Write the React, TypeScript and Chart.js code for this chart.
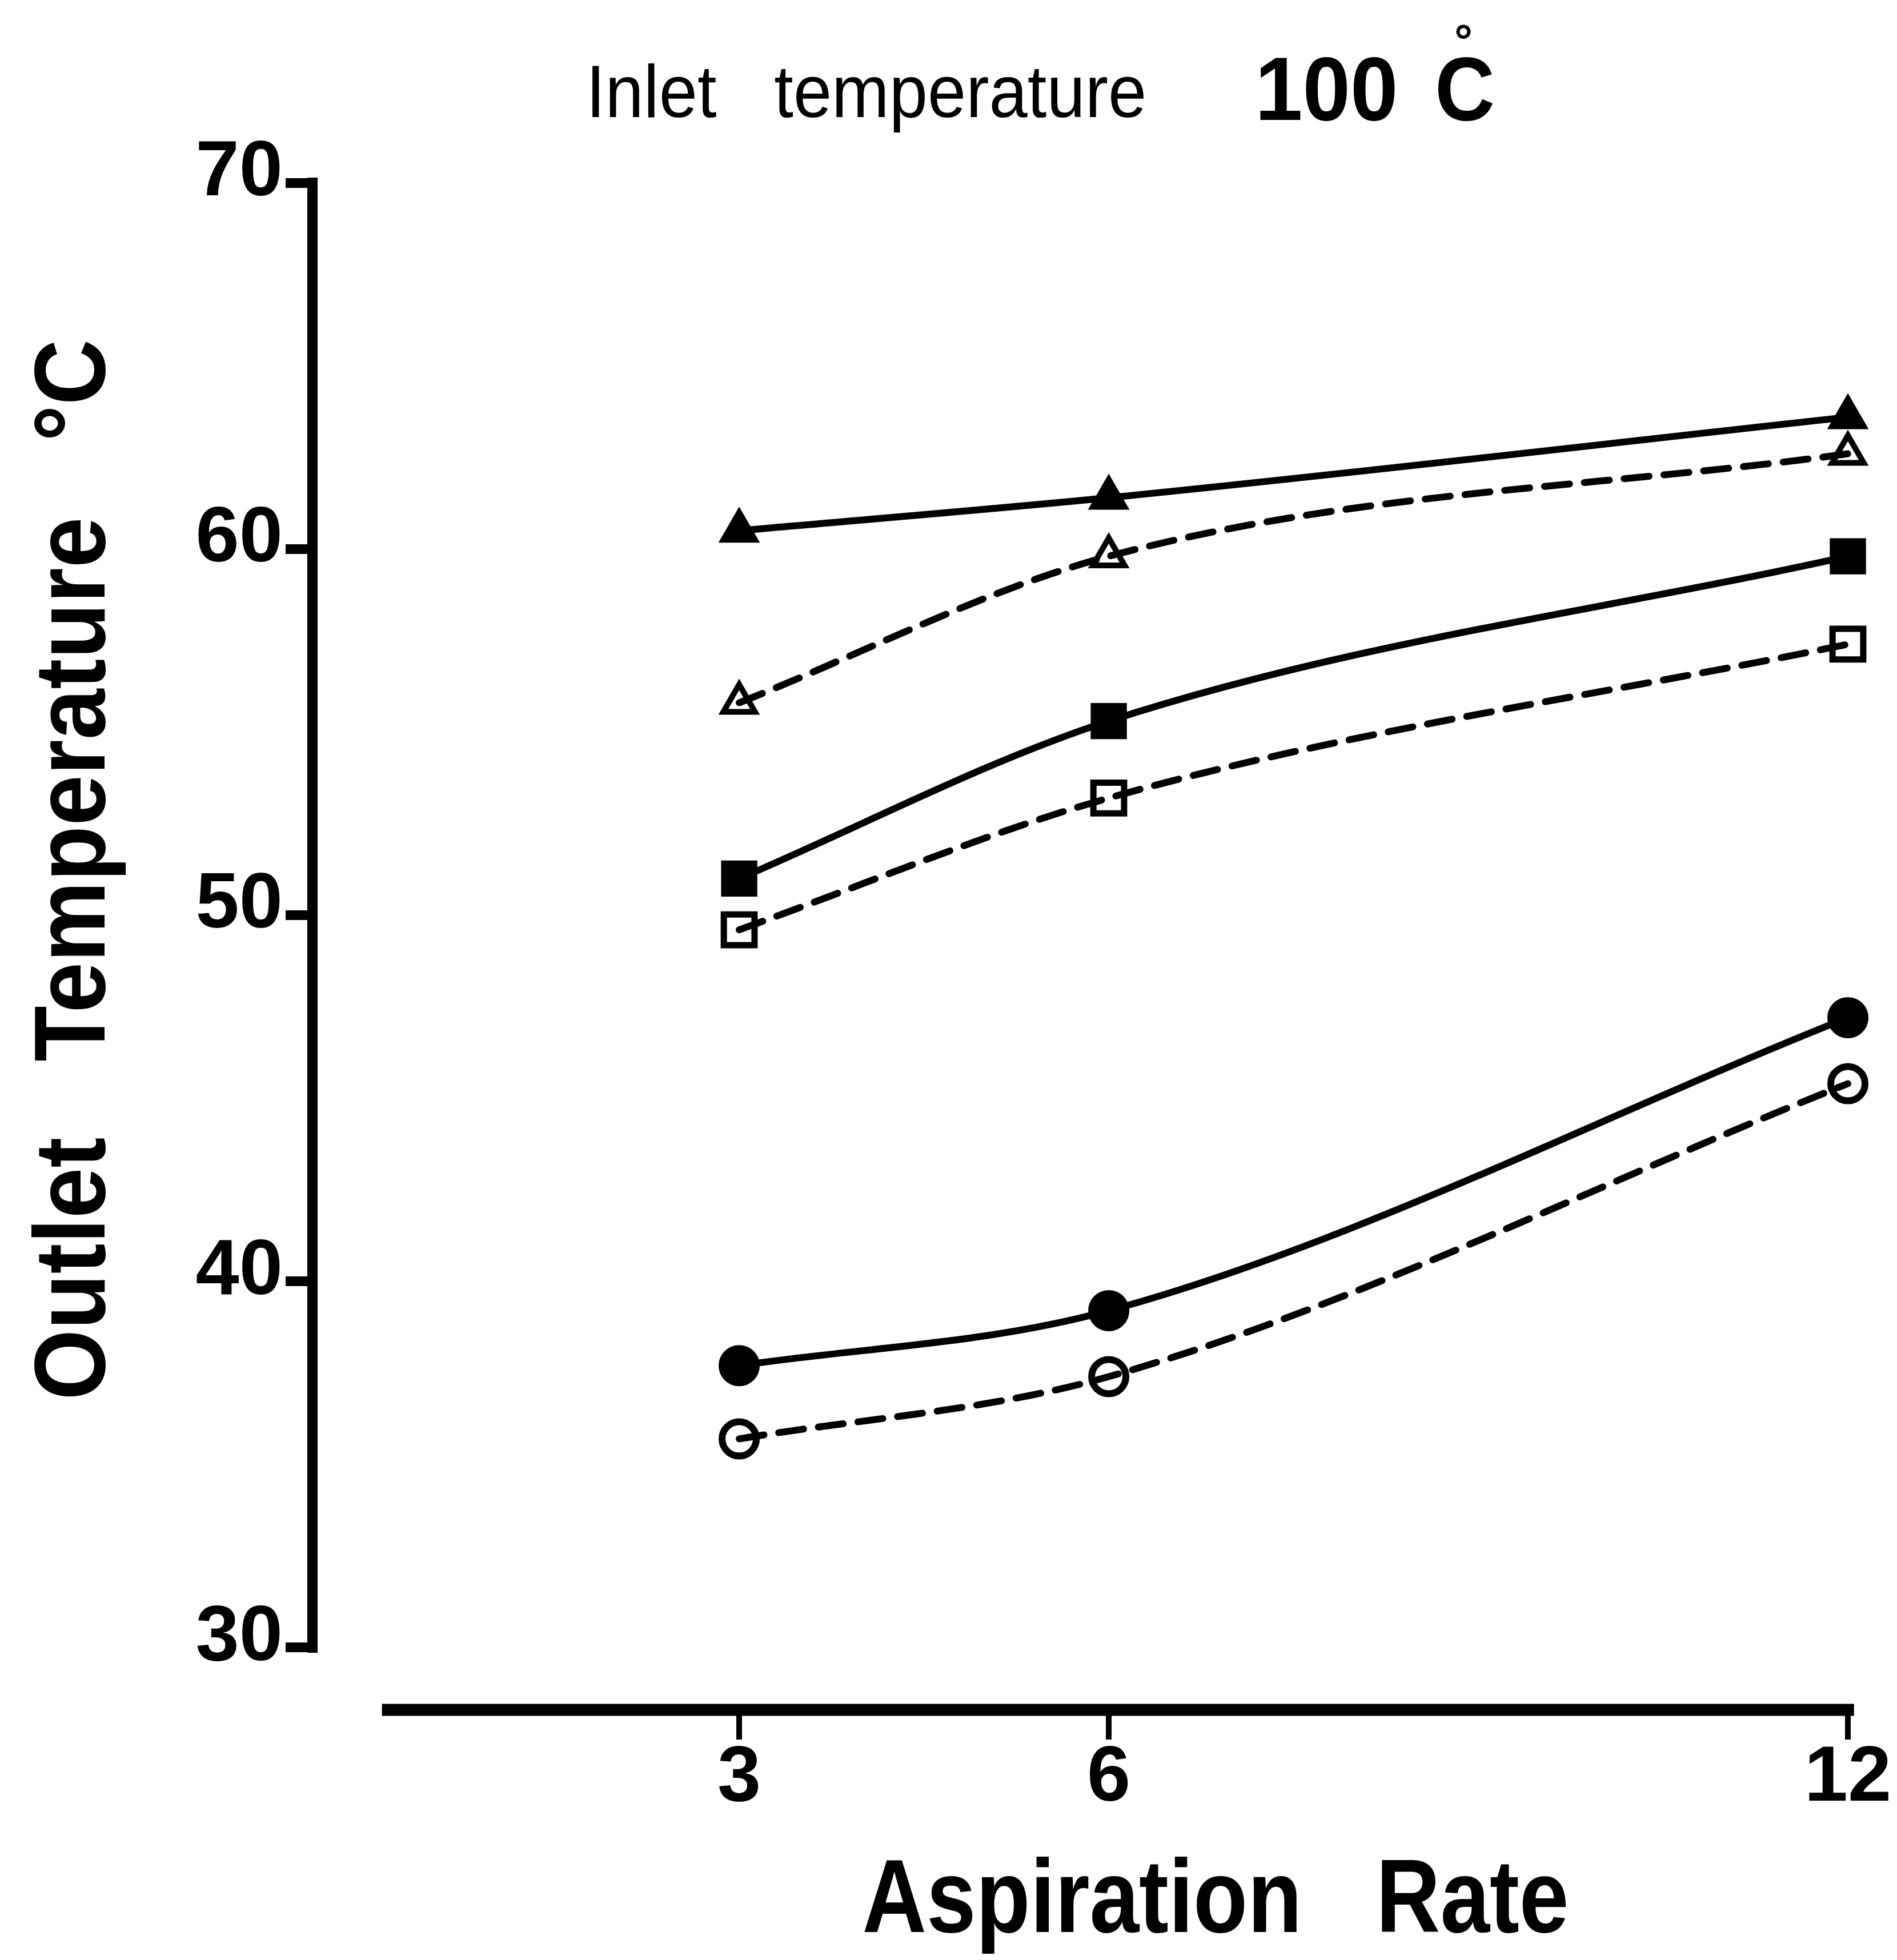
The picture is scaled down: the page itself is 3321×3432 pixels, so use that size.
import React, { useEffect, useRef } from 'react';
import { Chart, registerables } from 'chart.js';

Chart.register(...registerables);

// ---- data ----
const aspirationRates = [3, 6, 12];
const filledTriangle = [60.5, 61.4, 63.6];
const openTriangle = [55.8, 59.8, 62.6];
const filledSquare = [51.0, 55.3, 59.8];
const openSquare = [49.6, 53.2, 57.4];
const filledCircle = [37.7, 39.2, 47.2];
const openCircle = [35.7, 37.4, 45.4];

const xTickValues = [3, 6, 12];
const yTickValues = [30, 40, 50, 60, 70];

const titleLeft = 'Inlet   temperature';
const titleValue = '100';
const titleUnit = 'C';
const titleDegree = '°';
const yTitle = 'Outlet   Temperature   °C';
const xTitle = 'Aspiration   Rate';

// axis extents
const xMin = -0.464;
const xMax = 12.139;
const yMin = 28.3;
const yMax = 70;
const xAxisStart = 0.1;
const xAxisEnd = 12.05;

const FONT = 'Liberation Sans';

function makeDataset(
  label: string,
  values: number[],
  style: string,
  filled: boolean,
  dashed: boolean,
  radius: number,
  pbw: number
) {
  return {
    label,
    data: aspirationRates.map((x, i) => ({ x, y: values[i] })),
    borderColor: '#000',
    borderWidth: 12,
    borderDash: dashed ? [44, 26] : [],
    borderCapStyle: dashed ? 'round' : 'butt',
    cubicInterpolationMode: 'monotone',
    tension: 0.4,
    fill: false,
    clip: false,
    pointStyle: style,
    pointRadius: radius,
    pointHoverRadius: radius,
    pointBorderWidth: pbw,
    pointBorderColor: '#000',
    pointBackgroundColor: filled ? '#000' : 'rgba(0,0,0,0)',
  };
}

const decorations = {
  id: 'decorations',
  afterDraw(chart: any) {
    const { ctx, chartArea, scales } = chart;
    const x = scales.x;
    const y = scales.y;
    ctx.save();
    ctx.fillStyle = '#000';
    ctx.strokeStyle = '#000';
    ctx.setLineDash([]);

    // y axis line
    ctx.lineCap = 'butt';
    ctx.lineWidth = 18;
    ctx.beginPath();
    ctx.moveTo(chartArea.left, y.getPixelForValue(yTickValues[yTickValues.length - 1]) - 9);
    ctx.lineTo(chartArea.left, y.getPixelForValue(yTickValues[0]) + 9);
    ctx.stroke();

    // detached x axis line
    ctx.lineWidth = 21;
    ctx.beginPath();
    ctx.moveTo(x.getPixelForValue(xAxisStart), chartArea.bottom);
    ctx.lineTo(x.getPixelForValue(xAxisEnd), chartArea.bottom);
    ctx.stroke();

    // top title
    ctx.textBaseline = 'alphabetic';
    ctx.textAlign = 'left';
    ctx.save();
    ctx.translate(1026, 205);
    ctx.scale(0.93, 1);
    ctx.font = `normal 130px "${FONT}"`;
    ctx.fillText(titleLeft, 0, 0);
    ctx.restore();

    ctx.save();
    ctx.translate(2197, 210);
    ctx.scale(0.95, 1);
    ctx.font = `bold 158px "${FONT}"`;
    ctx.fillText(titleValue, 0, 0);
    ctx.restore();

    ctx.save();
    ctx.translate(2512, 210);
    ctx.scale(0.92, 1);
    ctx.font = `bold 158px "${FONT}"`;
    ctx.fillText(titleUnit, 0, 0);
    ctx.restore();

    ctx.textAlign = 'center';
    ctx.font = `bold 80px "${FONT}"`;
    ctx.fillText(titleDegree, 2562, 99);

    // y title (rotated)
    ctx.save();
    ctx.translate(183, 1523);
    ctx.rotate(-Math.PI / 2);
    ctx.scale(0.9, 1);
    ctx.textAlign = 'center';
    ctx.font = `bold 177px "${FONT}"`;
    ctx.fillText(yTitle, 0, 0);
    ctx.restore();

    // x title
    ctx.save();
    ctx.translate(2128, 3383);
    ctx.scale(0.86, 1);
    ctx.textAlign = 'center';
    ctx.font = `bold 181px "${FONT}"`;
    ctx.fillText(xTitle, 0, 0);
    ctx.restore();

    ctx.restore();
  },
};

export default function App() {
  const ref = useRef<HTMLCanvasElement>(null);

  useEffect(() => {
    if (!ref.current) return;
    Chart.defaults.font.family = FONT;
    const chart = new Chart(ref.current, {
      type: 'line',
      data: {
        datasets: [
          makeDataset('filled triangle', filledTriangle, 'triangle', true, false, 32, 10),
          makeDataset('open triangle', openTriangle, 'triangle', false, true, 32, 10),
          makeDataset('filled square', filledSquare, 'rect', true, false, 37, 11),
          makeDataset('open square', openSquare, 'rect', false, true, 38, 11),
          makeDataset('filled circle', filledCircle, 'circle', true, false, 30, 12),
          makeDataset('open circle', openCircle, 'circle', false, true, 30, 12),
        ] as any,
      },
      options: {
        responsive: false,
        maintainAspectRatio: false,
        devicePixelRatio: 1,
        animation: false,
        events: [],
        layout: { padding: { top: 320, right: 56, bottom: 238, left: 0 } },
        plugins: {
          legend: { display: false },
          tooltip: { enabled: false },
          title: { display: false },
        },
        scales: {
          x: {
            type: 'linear',
            min: xMin,
            max: xMax,
            afterBuildTicks: (s: any) => {
              s.ticks = xTickValues.map((v) => ({ value: v }));
            },
            afterFit: (s: any) => {
              s.height = 200;
            },
            grid: {
              display: true,
              drawOnChartArea: false,
              drawTicks: true,
              tickLength: 52,
              tickWidth: 10,
              tickColor: '#000',
              color: '#000',
              lineWidth: 10,
            },
            border: { display: false },
            ticks: {
              color: '#000',
              padding: -13,
              maxRotation: 0,
              autoSkip: false,
              font: { family: FONT, size: 137, weight: 'bold' },
              callback: (v: any) => String(v),
            },
          },
          y: {
            type: 'linear',
            min: yMin,
            max: yMax,
            afterBuildTicks: (s: any) => {
              s.ticks = yTickValues.map((v) => ({ value: v }));
            },
            afterFit: (s: any) => {
              s.width = 547;
            },
            grid: {
              display: true,
              drawOnChartArea: false,
              drawTicks: true,
              tickLength: 47,
              tickWidth: 17,
              tickColor: '#000',
              color: '#000',
              lineWidth: 17,
            },
            border: { display: false },
            ticks: {
              color: '#000',
              padding: 5,
              labelOffset: -16,
              autoSkip: false,
              font: { family: FONT, size: 137, weight: 'bold' },
              callback: (v: any) => String(v),
            },
          },
        },
      } as any,
      plugins: [decorations],
    });
    return () => chart.destroy();
  }, []);

  return (
    <div style={{ position: 'absolute', left: 0, top: 0, width: 3321, height: 3432, background: '#fff' }}>
      <canvas ref={ref} width={3321} height={3432} style={{ display: 'block', width: 3321, height: 3432 }} />
    </div>
  );
}
